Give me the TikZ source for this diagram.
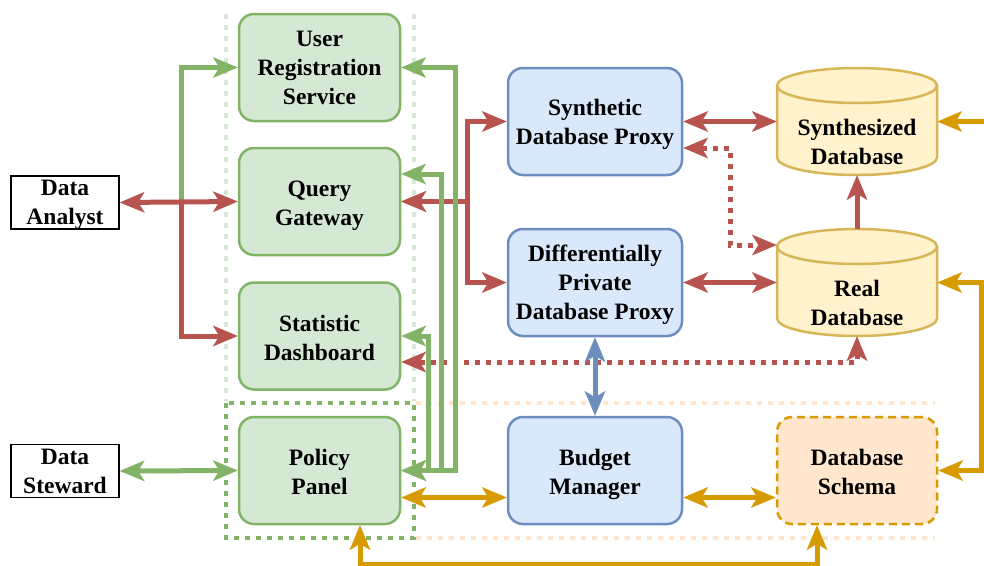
\documentclass[tikz,border=0pt]{standalone}
\usepackage{fontspec}
\setmainfont{Liberation Serif}
\usetikzlibrary{arrows.meta}
\definecolor{gfill}{HTML}{D5E8D4}
\definecolor{gline}{HTML}{82B366}
\definecolor{bfill}{HTML}{DAE8FC}
\definecolor{bline}{HTML}{6C8EBF}
\definecolor{yfill}{HTML}{FFF2CC}
\definecolor{yline}{HTML}{D6B656}
\definecolor{ofill}{HTML}{FFE6CC}
\definecolor{oline}{HTML}{D79B00}
\definecolor{rline}{HTML}{B85450}
\newcommand\dbcylinder[2]{%
  \filldraw[draw=yline,fill=yfill,line width=2.5pt]
    (#1-80,#2+17.5) -- (#1-80,#2+89.5)
    arc[start angle=180,end angle=360,x radius=80pt,y radius=17.5pt]
    -- (#1+80,#2+17.5)
    arc[start angle=0,end angle=180,x radius=80pt,y radius=17.5pt] -- cycle;
  \draw[draw=yline,line width=2.5pt] (#1-80,#2+17.5)
    arc[start angle=180,end angle=360,x radius=80pt,y radius=17.5pt];}
\newcommand\lnstrut{\rule[-6.3pt]{0pt}{28.5pt}}
\begin{document}
\begin{tikzpicture}[x=1pt,y=-1pt,
  >={Stealth[length=25pt,width=21pt,inset=6.5pt,line width=0pt]},
  txt/.style={align=center,inner sep=0pt,font=\fontsize{23.5}{29}\selectfont\bfseries,
    execute at begin node=\lnstrut, execute at end node=\lnstrut},
  gbox/.style={draw=gline,fill=gfill,line width=2.5pt,rounded corners=15pt,minimum width=161pt,minimum height=107pt},
  bbox/.style={draw=bline,fill=bfill,line width=2.5pt,rounded corners=15pt,minimum width=174pt,minimum height=107pt},
  obox/.style={draw=oline,fill=ofill,line width=2.5pt,rounded corners=15pt,minimum width=160pt,minimum height=107pt,dash pattern=on 8pt off 5pt},
  actor/.style={draw=black,line width=1.5pt,minimum width=108pt,minimum height=53pt},
  dbnode/.style={inner sep=0pt,minimum width=160pt,minimum height=107pt},
  gcon/.style={draw=gline,line width=5pt},
  rcon/.style={draw=rline,line width=5pt},
  bcon/.style={draw=bline,line width=5pt},
  ocon/.style={draw=oline,line width=5pt},
  rdot/.style={rcon,dash pattern=on 5pt off 6pt},
  lgdot/.style={draw=gfill,line width=4pt,dash pattern=on 5pt off 6pt},
  lodot/.style={draw=ofill,line width=4pt,dash pattern=on 5pt off 6pt},
  gdot/.style={draw=gline,line width=4pt,dash pattern=on 5pt off 6pt}]
\useasboundingbox (0,0) rectangle (984,565);
% background groups
\draw[lgdot] (226,14) -- (226,401);
\draw[lgdot] (414,14) -- (414,401);
\draw[lodot] (416,403) -- (935,403);
\draw[lodot] (416,538) -- (935,538);
\draw[gdot] (226,403) rectangle (414,538);
% boxes
\node[gbox] (urs) at (319.5,67.5) {};
\node[gbox] (qg) at (319.5,201.5) {};
\node[gbox] (sd) at (319.5,336) {};
\node[gbox] (pp) at (319.5,470.5) {};
\node[actor] (da) at (65,202.5) {};
\node[actor] (ds) at (65,471) {};
\node[bbox] (sp) at (595,121.5) {};
\node[bbox] (dp) at (595,282.5) {};
\node[bbox] (bm) at (595,470.5) {};
\node[obox] (dsc) at (857,470.5) {};
\dbcylinder{857}{68}
\dbcylinder{857}{229}
\node[dbnode] (sdb) at (857,121.5) {};
\node[dbnode] (rdb) at (857,282.5) {};
% texts
\node[txt] (ursT) at (319.5,71) {User\\Registration\\Service};
\node[txt] (qgT) at (319.5,206) {Query\\Gateway};
\node[txt] (sdT) at (319.5,340.5) {Statistic\\Dashboard};
\node[txt] (ppT) at (319.5,474.5) {Policy\\Panel};
\node[txt] (daT) at (65,205.5) {Data\\Analyst};
\node[txt] (dsT) at (65,474.5) {Data\\Steward};
\node[txt] (spT) at (595,125) {Synthetic\\Database Proxy};
\node[txt] (dpT) at (595,285.5) {Differentially\\Private\\Database Proxy};
\node[txt] (bmT) at (595,474.5) {Budget\\Manager};
\node[txt] (dscT) at (857,474.5) {Database\\Schema};
\node[txt] (sdbT) at (857,145) {Synthesized\\Database};
\node[txt] (rdbT) at (857,306) {Real\\Database};
% data analyst connectors
\coordinate (ja) at (181,202.5);
\draw[gcon,->] (ja) |- (urs.west);
\draw[rcon,<->] (da.east) -- (qg.west);
\draw[rcon,->] (ja) |- (sd.west);
% query gateway to proxies
\coordinate (jq) at (467,201.5);
\draw[rcon,<->] (qg.east) -- (jq) |- (sp.west);
\draw[rcon,<->] (qg.east) -- (jq) |- (dp.west);
% dotted red
\draw[rdot,<->] ([yshift=-26.5pt]sp.east) -| (730,245) -- ([yshift=37.5pt]rdb.west);
\draw[rdot,<->] ([yshift=-26pt]sd.east) -| (rdb.south);
% policy panel green
\draw[gcon,<->] (pp.east) -| (455,67.5) -- (urs.east);
\draw[gcon,<->] (pp.east) -| (441,174) -- ([yshift=27.5pt]qg.east);
\draw[gcon,<->] (pp.east) -| (428,336) -- (sd.east);
\draw[gcon,<->] (ds.east) -- (pp.west);
% databases
\draw[rcon,<->] (sp.east) -- (sdb.west);
\draw[rcon,<->] (dp.east) -- (rdb.west);
\draw[rcon,->] (rdb.north) -- (sdb.south);
\draw[bcon,<->] (dp.south) -- (bm.north);
% orange
\draw[ocon,<->] ([yshift=-27pt]pp.east) -- ([yshift=-27pt]bm.west);
\draw[ocon,<->] ([yshift=-27pt]bm.east) -- ([yshift=-27pt]dsc.west);
\draw[ocon,<->] ([xshift=40.5pt]pp.south) -- ++(0,39) -| ([xshift=-40pt]dsc.south);
\coordinate (edge) at (995,121.5);
\draw[ocon,->] (edge) -- (sdb.east);
\draw[ocon,<->] (dsc.east) -- ++(43,0) |- (rdb.east);
\end{tikzpicture}
\end{document}
